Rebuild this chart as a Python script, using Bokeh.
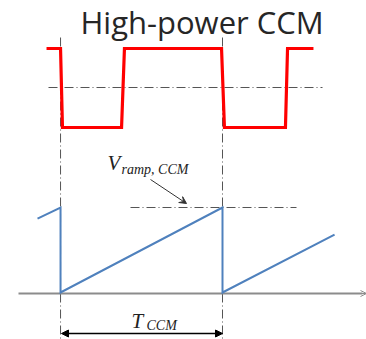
from bokeh.plotting import figure
from bokeh.models import Range1d, Arrow, NormalHead, OpenHead, VeeHead
from bokeh.core.properties import value
from bokeh.embed import file_html
from bokeh.resources import INLINE

# Gate drive waveform (time in switching periods, level 1 = high, 0 = low)
gate_t = [-0.093, -0.006, 0.006, 0.373, 0.391, 0.994, 1.012, 1.391, 1.404, 1.565]
gate_lvl = [1, 1, 0, 0, 1, 1, 0, 0, 1, 1]

# Ramp voltage (fraction of V_ramp,CCM)
ramp_t = [-0.149, -0.006, -0.006, 1.0, 1.0, 1.696]
ramp_v = [0.87, 1.0, 0.0, 1.0, 0.0, 0.68]

title_text = "High-power CCM"

W, H = 366, 339
PX = 161.0          # pixels per switching period
T0 = 61.0           # pixel position of t = 0

p = figure(width=W, height=H, output_backend="svg", toolbar_location=None,
           x_range=Range1d(-T0 / PX, (W - T0) / PX), y_range=Range1d(H, 0),
           min_border=0)
p.axis.visible = False
p.grid.visible = False
p.outline_line_color = None
p.background_fill_color = "white"
p.border_fill_color = "white"

def tx(px):
    return (px - T0) / PX

# gate waveform vertical placement
G_LOW, G_AMP = 127, 79
# ramp waveform vertical placement
R_ZERO, R_AMP = 292, 85

DASH = "9 3 1 3"
GREY = "#555555"

# dash-dot reference lines
p.line([tx(48), tx(322)], [87, 87], line_color=GREY, line_width=1, line_dash=DASH)
for tt in (-0.006, 1.0):
    p.line([tt, tt], [37, 339], line_color=GREY, line_width=1, line_dash=DASH)
p.line([tx(130), tx(296)], [R_ZERO - R_AMP, R_ZERO - R_AMP],
       line_color=GREY, line_width=1, line_dash=DASH)

# time axis
p.line([tx(18), tx(362)], [R_ZERO + 1, R_ZERO + 1], line_color="#8c8c8c", line_width=2)
p.add_layout(Arrow(end=OpenHead(size=6, line_color="#8c8c8c", line_width=1),
                   x_start=tx(356), y_start=R_ZERO + 1, x_end=tx(366), y_end=R_ZERO + 1,
                   line_color="#8c8c8c", line_width=1))

# gate signal
p.line(gate_t, [G_LOW - G_AMP * g for g in gate_lvl], line_color="#ff0000",
       line_width=3.2, line_join="miter")

# ramp signal
p.line(ramp_t, [R_ZERO - R_AMP * v for v in ramp_v], line_color="#4f81bd",
       line_width=2, line_join="miter")

# title
p.text(x=[tx(80)], y=[21.5], text=[title_text], text_font=value("Open Sans"),
       text_font_size="31px", text_color="#262626", text_baseline="middle",
       text_align="left")

# V_ramp,CCM label
p.text(x=[tx(107)], y=[162], text=["V"], text_font=value("Liberation Serif"),
       text_font_style="italic", text_font_size="21px", text_color="#222222",
       text_baseline="middle")
p.text(x=[tx(121)], y=[169], text=["ramp, CCM"], text_font=value("Liberation Serif"),
       text_font_style="italic", text_font_size="14px", text_color="#222222",
       text_baseline="middle")
p.add_layout(Arrow(end=VeeHead(size=7, fill_color="#333333", line_color="#333333"),
                   x_start=tx(150), y_start=179, x_end=tx(186), y_end=203,
                   line_color="#333333", line_width=1))

# T_CCM label
p.text(x=[tx(131)], y=[320], text=["T"], text_font=value("Liberation Serif"),
       text_font_style="italic", text_font_size="21px", text_color="#222222",
       text_baseline="middle")
p.text(x=[tx(146)], y=[325], text=["CCM"], text_font=value("Liberation Serif"),
       text_font_style="italic", text_font_size="14px", text_color="#222222",
       text_baseline="middle")
p.add_layout(Arrow(start=NormalHead(size=7, fill_color="black", line_color="black"),
                   end=NormalHead(size=7, fill_color="black", line_color="black"),
                   x_start=0.0, y_start=333, x_end=1.0, y_end=333,
                   line_color="black", line_width=1.3))

open("out.html", "w").write(file_html(p, INLINE))
